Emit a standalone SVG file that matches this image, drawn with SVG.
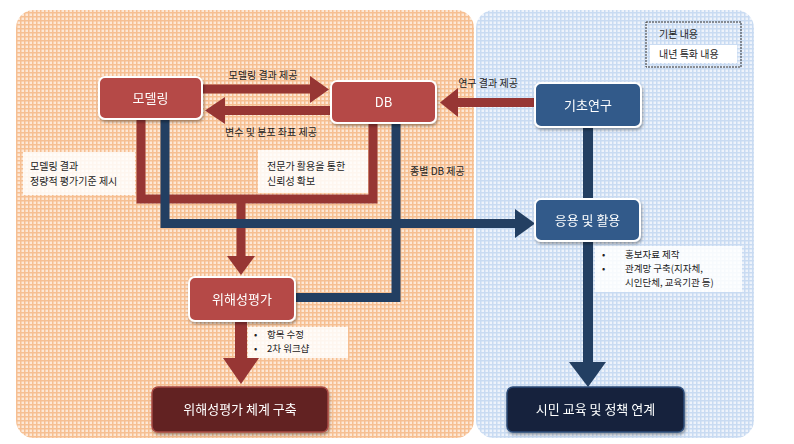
<svg xmlns="http://www.w3.org/2000/svg" width="794" height="444" viewBox="0 0 794 444">
<style>
.lbl{font-family:"Noto Sans CJK KR","Noto Sans",sans-serif;font-size:10px;fill:#222}
.sm{font-size:9.5px}
.nt{font-family:"Noto Sans CJK KR","Noto Sans",sans-serif;font-size:13px;fill:#fff;text-anchor:middle}
.red{fill:#b54a46;stroke:#fff;stroke-width:2}
.blue{fill:#305a8a;stroke:#fff;stroke-width:2}
.rl{stroke:#973634;fill:none}
.bl{stroke:#233f62;fill:none}
.box{fill:#fff;fill-opacity:0.85}
</style>
<defs>
<pattern id="po" width="4" height="4" patternUnits="userSpaceOnUse">
<rect width="4" height="4" fill="#fde8d6"/>
<rect width="4" height="1.5" fill="#f6bf92"/>
<rect width="1.5" height="4" fill="#f6bf92"/>
</pattern>
<pattern id="pb" width="4" height="4" patternUnits="userSpaceOnUse">
<rect width="4" height="4" fill="#eef3fb"/>
<rect width="4" height="1.5" fill="#c9dbf2"/>
<rect width="1.5" height="4" fill="#c9dbf2"/>
</pattern>
<filter id="sh" x="-20%" y="-20%" width="140%" height="150%">
<feDropShadow dx="1" dy="2" stdDeviation="1.5" flood-color="#000" flood-opacity="0.35"/>
</filter>
</defs>
<rect x="16" y="10" width="458" height="428" rx="18" fill="url(#po)"/>
<rect x="476" y="10" width="278" height="428" rx="18" fill="url(#pb)"/>

<g id="legend">
<rect x="646" y="22" width="95" height="45" fill="none" stroke="#333" stroke-width="1" stroke-dasharray="2,1"/>
<rect x="650" y="45" width="87" height="18" fill="#fff"/>
<text class="lbl" x="659" y="38">기본 내용</text>
<text class="lbl" x="659" y="58">내년 특화 내용</text>
</g>

<g id="connectors">
<path class="rl" stroke-width="9" d="M141,119 V199 H373 V122"/>
<path class="rl" stroke-width="9" d="M241,199 V257"/>
<polygon fill="#973634" points="227,256 255,256 241,275"/>
<path class="bl" stroke-width="9" d="M165,119 V223.5 H516"/>
<polygon fill="#233f62" points="515,209 515,238 535,223.5"/>
<path class="bl" stroke-width="9" d="M396,122 V297.5 H294"/>
<path class="bl" stroke-width="10" d="M588,126 V200 M588,240 V363"/>
<polygon fill="#233f62" points="569,362 606,362 588,387"/>
<path class="rl" stroke-width="9" d="M203,89 H311"/>
<polygon fill="#973634" points="310,76 310,103 329,89.5"/>
<path class="rl" stroke-width="9" d="M332,110.5 H224"/>
<polygon fill="#973634" points="225,97 225,124 205,110.5"/>
<path class="rl" stroke-width="9" d="M535,102.5 H457"/>
<polygon fill="#973634" points="458,88 458,117 440,102.5"/>
<path class="rl" stroke-width="12" d="M241,321 V359"/>
<polygon fill="#973634" points="223,358 259,358 241,384"/>
</g>

<g id="labels">
<text class="lbl" x="263" y="79" text-anchor="middle">모델링 결과 제공</text>
<text class="lbl" x="271" y="136" text-anchor="middle">변수 및 분포 좌표 제공</text>
<text class="lbl" x="488" y="87" text-anchor="middle">연구 결과 제공</text>
<text class="lbl" x="410" y="175">종별 DB 제공</text>
<rect class="box" x="23" y="152" width="112" height="43"/>
<text class="lbl" x="30" y="170">모델링 결과</text>
<text class="lbl" x="30" y="185">정량적 평가기준 제시</text>
<rect class="box" x="258" y="150" width="110" height="43"/>
<text class="lbl" x="267" y="170">전문가 활용을 통한</text>
<text class="lbl" x="267" y="185">신뢰성 확보</text>
<rect class="box" x="595" y="246" width="147" height="46"/>
<text class="lbl sm" x="602" y="258">•<tspan x="625">홍보자료 제작</tspan></text>
<text class="lbl sm" x="602" y="272">•<tspan x="625">관계망 구축(지자체,</tspan></text>
<text class="lbl sm" x="625" y="286">시인단체, 교육기관 등)</text>
<rect class="box" x="248" y="327" width="100" height="31"/>
<text class="lbl sm" x="254" y="338">•<tspan x="267">항목 수정</tspan></text>
<text class="lbl sm" x="254" y="352">•<tspan x="267">2차 워크샵</tspan></text>
</g>

<g id="node-modeling" filter="url(#sh)">
<rect class="red" x="99" y="77" width="103" height="42" rx="6"/>
<text class="nt" x="150.5" y="103">모델링</text>
</g>
<g id="node-db" filter="url(#sh)">
<rect class="red" x="331" y="81" width="105" height="42" rx="6"/>
<text class="nt" x="383.5" y="107">DB</text>
</g>
<g id="node-basic" filter="url(#sh)">
<rect class="blue" x="535" y="83" width="106" height="44" rx="6"/>
<text class="nt" x="588" y="110">기초연구</text>
</g>
<g id="node-apply" filter="url(#sh)">
<rect class="blue" x="535" y="199" width="105" height="42" rx="6"/>
<text class="nt" x="587.5" y="225">응용 및 활용</text>
</g>
<g id="node-risk" filter="url(#sh)">
<rect class="red" x="189" y="277" width="106" height="44" rx="6"/>
<text class="nt" x="242" y="304">위해성평가</text>
</g>
<g id="node-system" filter="url(#sh)">
<rect x="152" y="387" width="176" height="45" rx="6" fill="#622121" stroke="#a84a44" stroke-width="1.5"/>
<text class="nt" x="240" y="414">위해성평가 체계 구축</text>
</g>
<g id="node-citizen" filter="url(#sh)">
<rect x="507" y="387" width="177" height="45" rx="6" fill="#13233e" stroke="#2d4c78" stroke-width="1.5"/>
<text class="nt" x="595.5" y="414">시민 교육 및 정책 연계</text>
</g>
</svg>
